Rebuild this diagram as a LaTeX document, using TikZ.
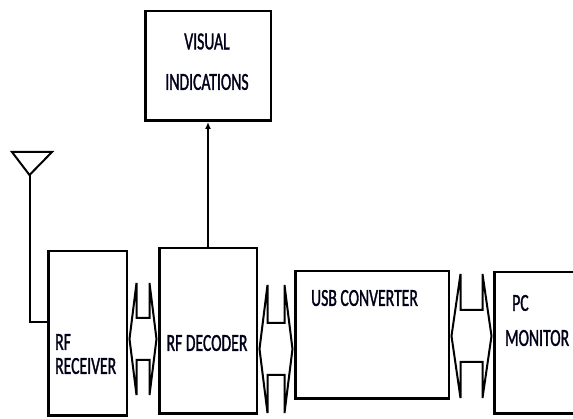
\documentclass[tikz,border=0pt]{standalone}
\usepackage{fontspec}
\setmainfont{Carlito}
\newfontfamily\labelfont[FakeStretch=0.64, FakeBold=1.2]{Carlito}
\usepackage{tikz}
\usetikzlibrary{arrows.meta, calc}
\tikzset{
  unit_box/.style={rectangle, draw=black, line width=2.5pt, fill=white, inner sep=0pt},
  bus_arrow/.style={draw=black, line width=2pt, fill=white, line join=miter},
  wire/.style={-, line width=2pt, black},
  arrow/.style={-{Latex[length=7pt,width=6pt]}, line width=2pt, black},
  label_text/.style={font=\labelfont\fontsize{24.5}{28}\selectfont, text=black!90!blue, inner sep=0pt},
}
% fat double-headed bus arrow between two boxes
% #1 left node, #2 right node, #3 tip y, #4 head half, #5 shaft half, #6 head length
\newcommand{\busarrow}[6]{%
  \draw[bus_arrow] let \p1=($(#1.east)+(1.5,0)$), \p2=($(#2.west)+(-1.5,0)$), \p3=(0,#3) in
    (\x1,\y3) -- (\x1+#6pt,\y3+#4pt) -- (\x1+#6pt,\y3+#5pt) -- (\x2-#6pt,\y3+#5pt)
    -- (\x2-#6pt,\y3+#4pt) -- (\x2,\y3) -- (\x2-#6pt,\y3-#4pt) -- (\x2-#6pt,\y3-#5pt)
    -- (\x1+#6pt,\y3-#5pt) -- (\x1+#6pt,\y3-#4pt) -- cycle;
}

\begin{document}
\begin{tikzpicture}[x=1pt, y=-1pt]
  \clip (0,0) rectangle (573,419);

  % --- 1. Blocks ---
  \node[unit_box, minimum width=78.5pt, minimum height=164.5pt] (rx) at (87.5,333.5) {};
  \node[unit_box, minimum width=97.5pt, minimum height=165.5pt] (dec) at (208,331) {};
  \node[unit_box, minimum width=153.5pt, minimum height=127.5pt] (usb) at (372,335) {};
  \node[unit_box, minimum width=89.5pt, minimum height=141.5pt] (pc) at (539,343) {};
  \node[unit_box, minimum width=125.5pt, minimum height=109.5pt] (vis) at (208,66) {};

  % --- 2. Labels ---
  \node[label_text, anchor=west] (rx_l1) at (55,342) {RF};
  \node[label_text, anchor=west] (rx_l2) at (55,366) {RECEIVER};
  \node[label_text] (dec_l) at (207,343) {RF DECODER};
  \node[label_text] (usb_l) at (364.5,298) {USB CONVERTER};
  \node[label_text, anchor=west] (pc_l1) at (512,303) {PC};
  \node[label_text, anchor=west] (pc_l2) at (505,338) {MONITOR};
  \node[label_text] (vis_l1) at (207,41.5) {VISUAL};
  \node[label_text] (vis_l2) at (207,82) {INDICATIONS};

  % --- 3. Antenna ---
  \coordinate (ant) at (29.5,175);
  \coordinate (antfoot) at (29.5,322);
  \draw[wire, line join=miter] (12,152) -- (52,152) -- (ant) -- cycle;
  \draw[wire] (ant) -- (antfoot) -- (antfoot -| rx.west);

  % --- 4. Bus arrows ---
  \busarrow{rx}{dec}{339}{56}{21}{7}
  \busarrow{dec}{usb}{349}{64}{26}{8}
  \busarrow{usb}{pc}{336}{62}{26}{9}

  % --- 5. Decoder to indications ---
  \draw[arrow] (dec.north) -- (vis.south);
\end{tikzpicture}
\end{document}
